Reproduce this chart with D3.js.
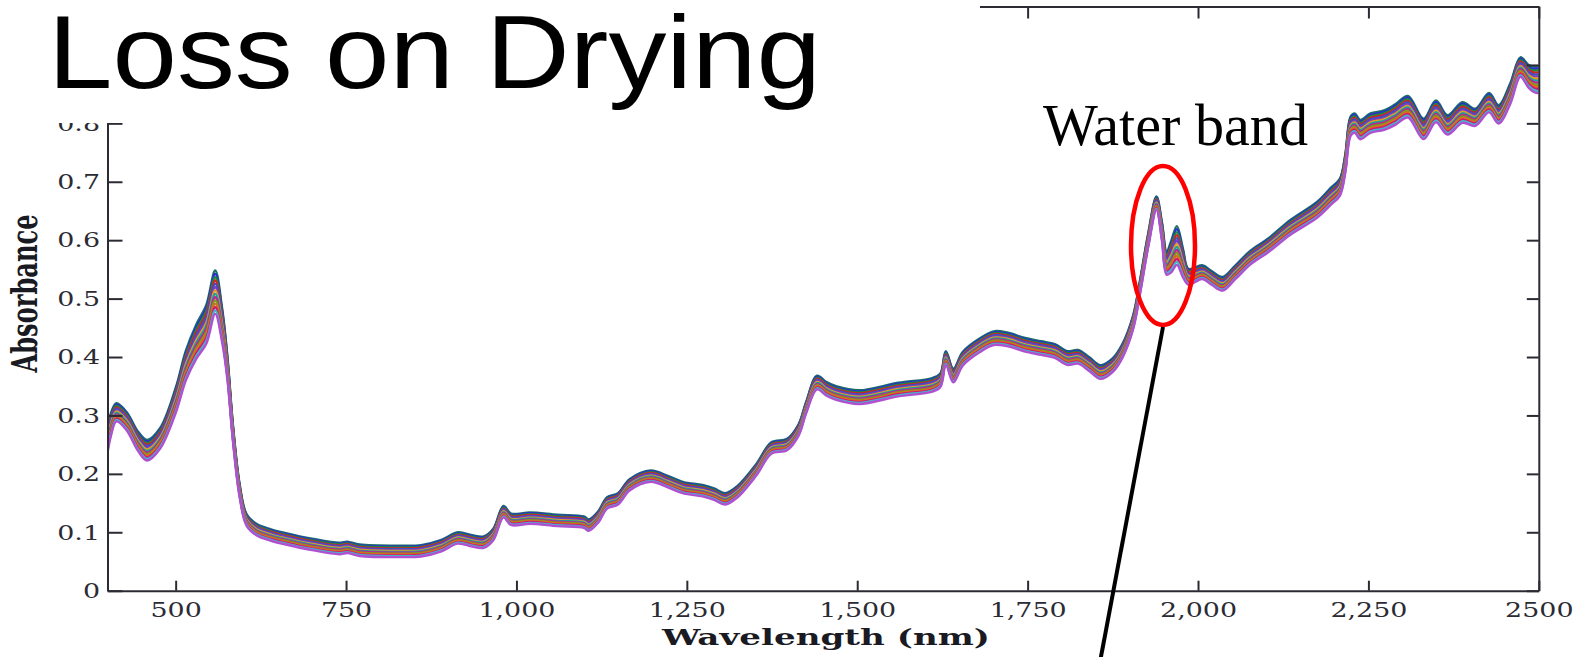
<!DOCTYPE html>
<html>
<head>
<meta charset="utf-8">
<script src="https://cdn.jsdelivr.net/npm/d3@7"></script>
<style>
  body { margin: 0; background: #fff; }
</style>
</head>
<body>
<script>
// spectrum: wavelength (nm), bundle centre and half width (absorbance)
var wavelengths = [400, 405, 413, 428, 445, 458, 477, 500, 515, 530, 545, 558, 568, 576, 584, 594, 604, 619, 640, 660,
  700, 740, 752, 770, 830, 860, 890, 914, 935, 952, 966, 981, 992, 1020, 1060, 1099, 1106, 1120, 1133, 1149,
  1166, 1197, 1223, 1245, 1273, 1290, 1306, 1324, 1352, 1374, 1397, 1414, 1425, 1441, 1455, 1469, 1503, 1560, 1610, 1622,
  1630, 1641, 1655, 1680, 1700, 1720, 1745, 1770, 1790, 1808, 1824, 1840, 1857, 1875, 1889, 1905, 1915, 1927, 1939, 1947,
  1954, 1961, 1969, 1978, 1986, 2006, 2020, 2036, 2055, 2077, 2102, 2136, 2175, 2195, 2208, 2216, 2224, 2230, 2238, 2253,
  2273, 2290, 2308, 2331, 2349, 2366, 2388, 2407, 2427, 2441, 2458, 2473, 2485, 2492, 2500];

var meanAbsorbance = [0.255, 0.284, 0.305, 0.290, 0.255, 0.240, 0.260, 0.325, 0.385, 0.425, 0.455, 0.510, 0.455, 0.380, 0.270, 0.170, 0.121, 0.104, 0.095, 0.089,
  0.079, 0.072, 0.074, 0.069, 0.067, 0.068, 0.077, 0.090, 0.085, 0.083, 0.096, 0.135, 0.122, 0.124, 0.120, 0.117, 0.112, 0.126, 0.150, 0.157,
  0.181, 0.196, 0.186, 0.176, 0.171, 0.165, 0.157, 0.169, 0.207, 0.244, 0.250, 0.275, 0.313, 0.356, 0.345, 0.338, 0.331, 0.344, 0.352, 0.360,
  0.398, 0.368, 0.397, 0.420, 0.432, 0.430, 0.421, 0.415, 0.410, 0.398, 0.400, 0.388, 0.374, 0.386, 0.410, 0.460, 0.520, 0.600, 0.663, 0.615,
  0.560, 0.572, 0.590, 0.560, 0.537, 0.545, 0.535, 0.525, 0.545, 0.570, 0.590, 0.622, 0.652, 0.675, 0.690, 0.730, 0.795, 0.800, 0.789, 0.800,
  0.805, 0.815, 0.828, 0.790, 0.820, 0.797, 0.818, 0.810, 0.835, 0.815, 0.850, 0.896, 0.880, 0.875, 0.874];

var bandHalfWidth = [0.020, 0.020, 0.016, 0.016, 0.017, 0.018, 0.018, 0.022, 0.026, 0.030, 0.034, 0.038, 0.030, 0.020, 0.014, 0.011, 0.010, 0.010, 0.010, 0.010,
  0.010, 0.010, 0.010, 0.010, 0.010, 0.010, 0.010, 0.010, 0.010, 0.010, 0.010, 0.010, 0.010, 0.010, 0.010, 0.010, 0.010, 0.010, 0.010, 0.010,
  0.010, 0.010, 0.010, 0.010, 0.010, 0.010, 0.010, 0.010, 0.010, 0.010, 0.010, 0.010, 0.010, 0.012, 0.012, 0.012, 0.012, 0.012, 0.012, 0.012,
  0.012, 0.012, 0.012, 0.012, 0.012, 0.012, 0.012, 0.012, 0.012, 0.012, 0.012, 0.012, 0.012, 0.012, 0.012, 0.012, 0.012, 0.012, 0.012, 0.016,
  0.020, 0.028, 0.034, 0.025, 0.014, 0.012, 0.012, 0.012, 0.012, 0.012, 0.012, 0.013, 0.014, 0.015, 0.015, 0.016, 0.017, 0.017, 0.017, 0.017,
  0.017, 0.018, 0.019, 0.018, 0.019, 0.017, 0.018, 0.015, 0.017, 0.016, 0.018, 0.017, 0.020, 0.022, 0.024];

// one line per sample, from top of the bundle to the bottom
var sampleColors = ["#1f6f6a", "#2a2fd0", "#1d8a3a", "#d42424", "#3a50c0", "#7a3cc0", "#e0a020", "#1aa0a0",
  "#c02090", "#7a9a20", "#e06a1a", "#d01878", "#40b8c8", "#b050d0"];
var samplePosition = [1, 0.85, 0.7, 0.55, 0.4, 0.25, 0.1, -0.05, -0.2, -0.35, -0.5, -0.65, -0.8, -0.95];

var xTicks = [500, 750, 1000, 1250, 1500, 1750, 2000, 2250, 2500];
var xTickLabels = ["500", "750", "1,000", "1,250", "1,500", "1,750", "2,000", "2,250", "2500"];
var yTicks = [0, 0.1, 0.2, 0.3, 0.4, 0.5, 0.6, 0.7, 0.8, 0.9];
var yTickLabels = ["0", "0.1", "0.2", "0.3", "0.4", "0.5", "0.6", "0.7", "0.8", "0.9"];

var width = 1579, height = 657;
var plot = {left: 107.5, right: 1538.8, top: 6.5, bottom: 590.7};
var titleBox = {width: 980, height: 123};
var axisColor = "#2b2b33";
var tickFont = "'DejaVu Serif', serif";

var svg = d3.select("body").append("svg")
  .attr("width", width)
  .attr("height", height)
  .style("display", "block");

svg.append("rect")
  .attr("width", width)
  .attr("height", height)
  .attr("fill", "#fff");

var x = d3.scaleLinear().domain([400, 2500]).range([plot.left, plot.right]);
var y = d3.scaleLinear().domain([0, 1]).range([plot.bottom, plot.top]);

svg.append("clipPath")
  .attr("id", "plotClip")
  .append("rect")
  .attr("x", plot.left)
  .attr("y", plot.top)
  .attr("width", plot.right - plot.left)
  .attr("height", plot.bottom - plot.top);

var blur = svg.append("filter").attr("id", "soft");
blur.append("feGaussianBlur").attr("stdDeviation", 0.5);

// spectra
var lines = svg.append("g")
  .attr("clip-path", "url(#plotClip)")
  .attr("filter", "url(#soft)");

samplePosition.forEach(function(pos, s) {
  var line = d3.line()
    .x(function(d, i) { return x(wavelengths[i]); })
    .y(function(d, i) { return y(meanAbsorbance[i] + pos * bandHalfWidth[i]); })
    .curve(d3.curveCatmullRom.alpha(0.5));
  lines.append("path")
    .datum(wavelengths)
    .attr("d", line)
    .attr("fill", "none")
    .attr("stroke", sampleColors[s])
    .attr("stroke-width", 2.4)
    .attr("stroke-linejoin", "round");
});

function styleAxis(g) {
  g.attr("color", axisColor)
    .attr("font-family", tickFont)
    .attr("font-size", 21);
  g.select(".domain").attr("stroke-width", 2);
  g.selectAll(".tick line").attr("stroke-width", 2);
  g.selectAll(".tick text").each(function() {
    var w = this.getComputedTextLength();
    d3.select(this)
      .attr("textLength", w * 1.28)
      .attr("lengthAdjust", "spacingAndGlyphs");
  });
}

svg.append("g")
  .attr("transform", "translate(0," + plot.bottom + ")")
  .call(d3.axisBottom(x).tickValues(xTicks)
    .tickFormat(function(d, i) { return xTickLabels[i]; })
    .tickSize(-10).tickSizeOuter(0).tickPadding(11))
  .call(styleAxis);

var yAxisLeft = svg.append("g")
  .attr("transform", "translate(" + plot.left + ",0)")
  .call(d3.axisLeft(y).tickValues(yTicks)
    .tickFormat(function(d, i) { return yTickLabels[i]; })
    .tickSize(-15).tickSizeOuter(0).tickPadding(7.5))
  .call(styleAxis);

// labels lying fully under the title box are not shown on the slide
yAxisLeft.selectAll(".tick")
  .filter(function(d) { return y(d) + 8 < titleBox.height; })
  .select("text")
  .remove();

svg.append("g")
  .attr("transform", "translate(0," + plot.top + ")")
  .call(d3.axisTop(x).tickValues(xTicks).tickFormat("").tickSize(-12).tickSizeOuter(0))
  .call(styleAxis);

svg.append("g")
  .attr("transform", "translate(" + plot.right + ",0)")
  .call(d3.axisRight(y).tickValues(yTicks).tickFormat("").tickSize(-12).tickSizeOuter(0))
  .call(styleAxis);

svg.append("text")
  .attr("x", 826)
  .attr("y", 645)
  .attr("text-anchor", "middle")
  .attr("font-family", tickFont)
  .attr("font-weight", "bold")
  .attr("font-size", 22)
  .attr("fill", "#1a1a22")
  .attr("textLength", 328)
  .attr("lengthAdjust", "spacingAndGlyphs")
  .text("Wavelength (nm)");

svg.append("text")
  .attr("transform", "translate(37,293.5) rotate(-90)")
  .attr("text-anchor", "middle")
  .attr("font-family", tickFont)
  .attr("font-weight", "bold")
  .attr("font-size", 35)
  .attr("fill", "#1a1a22")
  .attr("textLength", 158)
  .attr("lengthAdjust", "spacingAndGlyphs")
  .text("Absorbance");

// slide title box sits over the top left of the figure
svg.append("rect")
  .attr("x", 0)
  .attr("y", 0)
  .attr("width", titleBox.width)
  .attr("height", titleBox.height)
  .attr("fill", "#fff");

svg.append("text")
  .attr("x", 48)
  .attr("y", 88)
  .attr("font-family", "'Liberation Sans', Arial, sans-serif")
  .attr("font-size", 104)
  .attr("fill", "#000")
  .attr("textLength", 773)
  .attr("lengthAdjust", "spacingAndGlyphs")
  .text("Loss on Drying");

// water band callout
svg.append("text")
  .attr("x", 1043)
  .attr("y", 145)
  .attr("font-family", "'Liberation Serif', 'Times New Roman', serif")
  .attr("font-size", 59)
  .attr("fill", "#000")
  .attr("textLength", 265)
  .attr("lengthAdjust", "spacingAndGlyphs")
  .text("Water band");

svg.append("ellipse")
  .attr("cx", 1163)
  .attr("cy", 245.5)
  .attr("rx", 32)
  .attr("ry", 79.5)
  .attr("fill", "none")
  .attr("stroke", "#f00")
  .attr("stroke-width", 4.5);

svg.append("line")
  .attr("x1", 1163)
  .attr("y1", 327)
  .attr("x2", 1100)
  .attr("y2", 662)
  .attr("stroke", "#000")
  .attr("stroke-width", 4);
</script>
</body>
</html>
